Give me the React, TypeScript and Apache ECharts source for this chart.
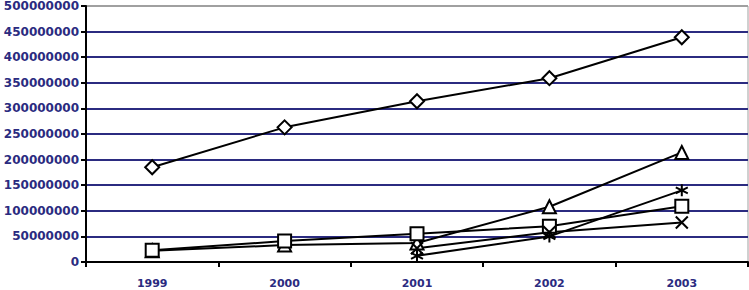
import React, { useEffect, useRef } from "react";
import * as echarts from "echarts";

const years = ["1999", "2000", "2001", "2002", "2003"];
const diamondSeries = [185000000, 263000000, 314000000, 359000000, 439000000];
const triangleSeries = [22000000, 33000000, 37000000, 108000000, 214000000];
const squareSeries = [23000000, 41000000, 55000000, 70000000, 109000000];
const crossSeries = [null, null, 27000000, 58000000, 77000000];
const starSeries = [null, null, 12000000, 50000000, 140000000];

const NAVY = "#2b2b80";
const FONT = "DejaVu Sans, Verdana, sans-serif";

const xSym = "path://M0,0L10,10M10,0L0,10";
const starSym = "path://M5,0L5,10M0,2.5L10,7.5M10,2.5L0,7.5";

export default function App() {
  const ref = useRef<HTMLDivElement>(null);
  useEffect(() => {
    const chart = echarts.init(ref.current!, undefined, { renderer: "svg" });
    const mk = (name: string, data: any[], symbol: string, size: number, fill = "#fff") => ({
      name,
      type: "line",
      data,
      symbol,
      symbolSize: size,
      showAllSymbol: true,
      connectNulls: false,
      lineStyle: { color: "#000", width: 2 },
      itemStyle: { color: fill, borderColor: "#000", borderWidth: 2 },
      z: 3,
    });
    chart.setOption({
      animation: false,
      backgroundColor: "#fff",
      grid: {
        left: 86,
        top: 6,
        right: 1,
        bottom: 28,
        show: true,
        borderColor: "#a0a0a0",
        borderWidth: 1,
      },
      xAxis: {
        type: "category",
        data: years,
        boundaryGap: true,
        axisLine: { lineStyle: { color: "#000", width: 2 } },
        axisTick: { show: true, alignWithLabel: false, length: 5, lineStyle: { color: "#000", width: 2 } },
        axisLabel: {
          color: NAVY,
          fontFamily: FONT,
          fontWeight: "bold",
          fontSize: 11,
          margin: 16,
        },
      },
      yAxis: {
        type: "value",
        min: 0,
        max: 500000000,
        interval: 50000000,
        axisLine: { show: true, lineStyle: { color: "#000", width: 2 } },
        axisTick: { show: true, length: 5, lineStyle: { color: "#000", width: 2 } },
        axisLabel: {
          color: NAVY,
          fontFamily: FONT,
          fontWeight: "bold",
          fontSize: 12,
          margin: 7,
          formatter: (v: number) => String(v),
        },
        splitLine: {
          show: true,
          lineStyle: {
            width: 2,
            color: ["#000", NAVY, NAVY, NAVY, NAVY, NAVY, NAVY, NAVY, NAVY, NAVY, "#a0a0a0"],
          },
        },
      },
      series: [
        mk("A", diamondSeries, "diamond", 14),
        mk("B", triangleSeries, "triangle", 13),
        mk("C", squareSeries, "rect", 13),
        mk("D", crossSeries, xSym, 12),
        mk("E", starSeries, starSym, 12),
      ],
    });
    return () => chart.dispose();
  }, []);
  return (
    <div
      ref={ref}
      style={{ position: "fixed", left: 0, top: 0, width: 749, height: 290 }}
    />
  );
}
